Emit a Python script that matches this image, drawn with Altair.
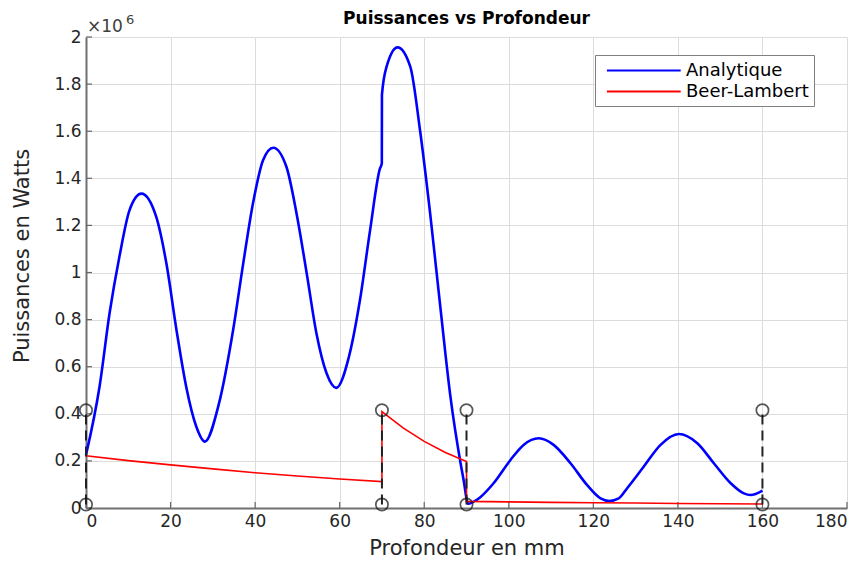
import altair as alt
import pandas as pd

# ---- Data (puissances en 10^6 W) ----
ana_x = [0, 3.2, 5.6, 7.9, 10.3, 13.1, 16.6, 19.0, 21.4, 23.7, 26.1, 28.1, 31.4,
         34.8, 37.2, 39.5, 41.9, 44.3, 47.4, 49.8, 52.2, 54.5, 56.9, 59.2, 62.2,
         64.8, 67.2, 69.5, 69.97, 70.0, 71.1, 73.7, 76.7, 79.0, 81.4, 83.8, 86.2,
         88.6, 89.4, 90.0, 90.3, 91.5, 93.2, 96.4, 100.4, 103.5, 107.1, 110.6,
         114.6, 118.5, 121.7, 123.8, 126.0, 128.0, 131.9, 135.9, 140.2, 144.6,
         148.5, 152.5, 155.6, 157.2, 160.0]
ana_y = [0.225, 0.515, 0.83, 1.067, 1.265, 1.335, 1.237, 1.04, 0.756, 0.515, 0.345,
         0.282, 0.44, 0.756, 1.04, 1.294, 1.478, 1.53, 1.449, 1.251, 0.997, 0.742,
         0.572, 0.51, 0.643, 0.883, 1.18, 1.44, 1.464, 1.754, 1.874, 1.956, 1.874,
         1.605, 1.251, 0.855, 0.473, 0.19, 0.11, 0.04, 0.018, 0.025, 0.045, 0.105,
         0.204, 0.268, 0.296, 0.268, 0.19, 0.098, 0.041, 0.03, 0.041, 0.084, 0.175,
         0.268, 0.314, 0.275, 0.19, 0.105, 0.062, 0.055, 0.074]

bl_x = [0, 10, 20, 30, 40, 50, 60, 70, 70, 75, 80, 85, 90, 90, 100, 110, 120,
        130, 140, 150, 160]
bl_y = [0.222, 0.201, 0.183, 0.166, 0.150, 0.136, 0.123, 0.112, 0.409, 0.34,
        0.283, 0.236, 0.197, 0.028, 0.026, 0.024, 0.022, 0.021, 0.019, 0.018, 0.017]

iface_x = [0, 70, 90, 160]
iface_lo = [0.015, 0.015, 0.015, 0.015]
iface_hi = [0.415, 0.415, 0.415, 0.415]

x_ticks = [0, 20, 40, 60, 80, 100, 120, 140, 160, 180]
y_ticks = [0, 0.2, 0.4, 0.6, 0.8, 1.0, 1.2, 1.4, 1.6, 1.8, 2.0]

series = ["Analytique", "Beer-Lambert"]

W, H = 761, 471
FONT = "DejaVu Sans"

ana = pd.DataFrame({"x": ana_x, "y": ana_y, "i": range(len(ana_x)), "s": series[0]})
bl = pd.DataFrame({"x": bl_x, "y": bl_y, "i": range(len(bl_x)), "s": series[1]})
iface = pd.DataFrame({"x": iface_x, "lo": iface_lo, "hi": iface_hi})
pts = pd.DataFrame({"x": iface_x + iface_x, "y": iface_lo + iface_hi})

xs = alt.Scale(domain=[0, 180], nice=False)
ys = alt.Scale(domain=[0, 2], nice=False)
cs = alt.Scale(domain=series, range=["#0000FF", "#FF0000"])

legend = alt.Legend(
    title=None, orient="none", legendX=509, legendY=18,
    symbolType="M-0.4,0H7.8", symbolSize=324, symbolStrokeWidth=2.2,
    labelFont=FONT, labelFontSize=18, labelColor="#000000", labelOffset=65,
    strokeColor="#808080", fillColor="white", padding=5, rowPadding=1,
    cornerRadius=0,
)

xaxis = alt.Axis(values=x_ticks, title="Profondeur en mm", grid=True, ticks=False,
                 labelPadding=5, titleY=40, titleBaseline="middle")
yaxis = alt.Axis(values=y_ticks, title="Puissances en Watts", grid=True, ticks=False,
                 format="~g", labelPadding=5, titleX=-64, titleY=H / 2 - 17,
                 titleAlign="center", titleBaseline="middle", titleAngle=270)

blue = alt.Chart(ana).mark_line(strokeWidth=2.6, interpolate="monotone").encode(
    x=alt.X("x:Q", scale=xs, axis=xaxis),
    y=alt.Y("y:Q", scale=ys, axis=yaxis),
    color=alt.Color("s:N", scale=cs, legend=legend),
    order="i:Q",
)
red = alt.Chart(bl).mark_line(strokeWidth=1.6).encode(
    x="x:Q", y="y:Q",
    color=alt.Color("s:N", scale=cs, legend=legend),
    order="i:Q",
)
dash = alt.Chart(iface).mark_rule(color="#222222", strokeWidth=2, strokeDash=[10, 6]).encode(
    x="x:Q", y="lo:Q", y2="hi:Q"
)
circ = alt.Chart(pts).mark_point(shape="circle", filled=False, color="#111111",
                                 size=150, strokeWidth=1.7).encode(x="x:Q", y="y:Q")

xt = alt.Chart(pd.DataFrame({"v": x_ticks})).mark_rule(color="#666666", strokeWidth=1.2).encode(
    x="v:Q", y=alt.value(H), y2=alt.value(H - 6)
)
yt = alt.Chart(pd.DataFrame({"v": y_ticks})).mark_rule(color="#666666", strokeWidth=1.2).encode(
    y="v:Q", x=alt.value(0), x2=alt.value(6)
)

exp1 = alt.Chart(pd.DataFrame({"t": ["×10"]})).mark_text(
    font=FONT, fontSize=17, color="#404040", align="left", baseline="alphabetic"
).encode(text="t:N", x=alt.value(1), y=alt.value(-5))
exp2 = alt.Chart(pd.DataFrame({"t": ["6"]})).mark_text(
    font=FONT, fontSize=13, color="#404040", align="left", baseline="alphabetic"
).encode(text="t:N", x=alt.value(40), y=alt.value(-13))
ttl = alt.Chart(pd.DataFrame({"t": ["Puissances vs Profondeur"]})).mark_text(
    font=FONT, fontSize=17, fontWeight="bold", color="#000000", align="center",
    baseline="alphabetic"
).encode(text="t:N", x=alt.value(W / 2), y=alt.value(-13))

chart = alt.layer(xt, yt, blue, red, dash, circ, exp1, exp2, ttl).properties(
    width=W, height=H,
    autosize=alt.AutoSizeParams(type="none"),
    padding={"left": 78, "top": 29, "right": 13, "bottom": 52},
).configure_view(stroke=None).configure_axis(
    labelFont=FONT, labelFontSize=17, labelColor="#262626",
    titleFont=FONT, titleFontSize=21, titleFontWeight="normal", titleColor="#262626",
    domainColor="#707070", domainWidth=2, gridColor="#dcdcdc", gridWidth=1,
    gridOpacity=1,
)

chart.save("out.html", embed_options={"renderer": "svg", "actions": False})
